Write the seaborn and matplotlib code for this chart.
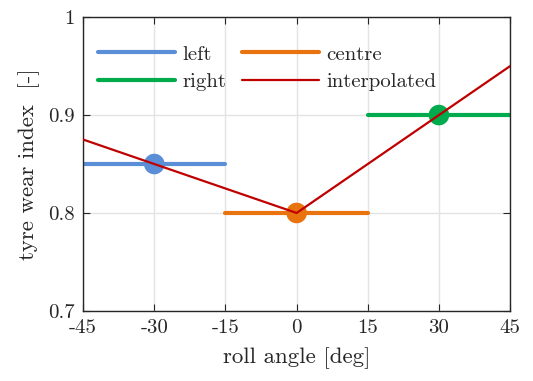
import numpy as np
import pandas as pd
import matplotlib
matplotlib.use("Agg")
import matplotlib.pyplot as plt
import seaborn as sns
from matplotlib.lines import Line2D

# data
left_x = [-45, -15]
left_y = [0.85, 0.85]
centre_x = [-15, 15]
centre_y = [0.8, 0.8]
right_x = [15, 45]
right_y = [0.9, 0.9]
interp_x = [-45, -30, 0, 30, 45]
interp_y = [0.875, 0.85, 0.8, 0.9, 0.95]
point_x = [-30, 0, 30]
point_y = [0.85, 0.8, 0.9]
point_names = ["left", "centre", "right"]

xticks = [-45, -30, -15, 0, 15, 30, 45]
yticks = [0.7, 0.8, 0.9, 1.0]
xtick_labels = ["-45", "-30", "-15", "0", "15", "30", "45"]
ytick_labels = ["0.7", "0.8", "0.9", "1"]

blue = "#5A8FD8"
orange = "#E8730F"
green = "#00AB4E"
red = "#C00000"
pal = {"left": blue, "centre": orange, "right": green}

sns.set_style("whitegrid")
plt.rcParams["font.family"] = "serif"
plt.rcParams["font.serif"] = ["cmr10", "DejaVu Serif"]
plt.rcParams["mathtext.fontset"] = "cm"
plt.rcParams["axes.unicode_minus"] = False

fig = plt.figure(figsize=(5.33, 3.81), dpi=100)
ax = fig.add_axes([0.156, 0.184, 0.801, 0.771])

segs = pd.DataFrame({
    "x": left_x + centre_x + right_x,
    "y": left_y + centre_y + right_y,
    "series": ["left"] * 2 + ["centre"] * 2 + ["right"] * 2,
})
sns.lineplot(data=segs, x="x", y="y", hue="series", palette=pal,
             linewidth=3, ax=ax, legend=False)
sns.scatterplot(x=point_x, y=point_y, hue=point_names, palette=pal,
                s=220, linewidth=0, ax=ax, legend=False, zorder=3)
sns.lineplot(x=interp_x, y=interp_y, color=red, linewidth=1.6, ax=ax,
             sort=False, zorder=4)

handles = [Line2D([], [], color=blue, lw=3), Line2D([], [], color=green, lw=3),
           Line2D([], [], color=orange, lw=3), Line2D([], [], color=red, lw=1.6)]
ax.legend(handles, ["left", "right", "centre", "interpolated"], ncol=2,
          loc="upper left", frameon=False, fontsize=15, handlelength=3.7,
          columnspacing=0.75, handletextpad=0.35, bbox_to_anchor=(0.0, 0.955),
          labelspacing=0.42, borderaxespad=0.3)

ax.set_xlim(-45, 45)
ax.set_ylim(0.7, 1.0)
ax.set_xticks(xticks)
ax.set_xticklabels(xtick_labels)
ax.set_yticks(yticks)
ax.set_yticklabels(ytick_labels)
ax.grid(True, color="#E3E3E3", linewidth=1)
ax.tick_params(direction="in", top=True, right=True, length=5, labelsize=15,
               color="#262626", bottom=True, left=True, pad=6)
for s in ax.spines.values():
    s.set_color("#262626")
    s.set_linewidth(1)
ax.set_xlabel("roll angle [deg]", fontsize=16.5, labelpad=7)
ax.set_ylabel("tyre wear index  [-]", fontsize=16.5, labelpad=6)

fig.savefig("out.png", dpi=100)
